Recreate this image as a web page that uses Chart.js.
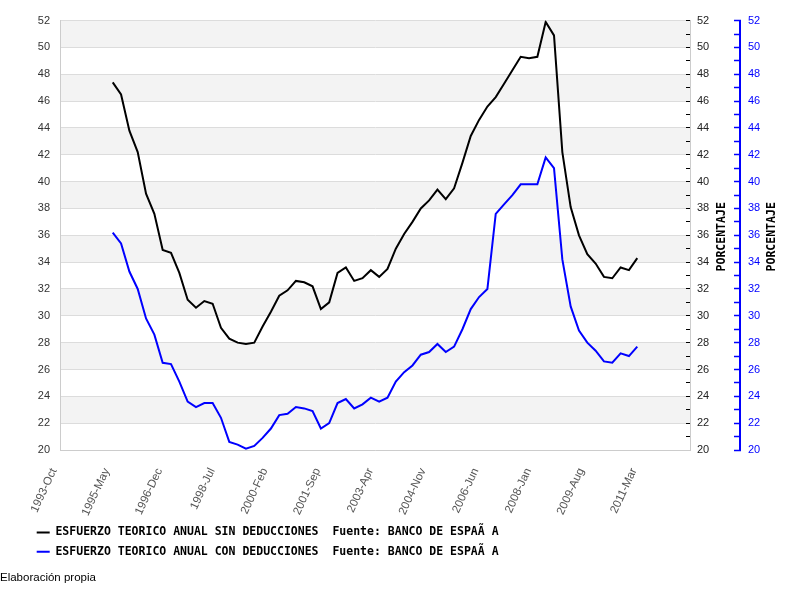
<!DOCTYPE html>
<html><head><meta charset="utf-8">
<script src="https://cdn.jsdelivr.net/npm/chart.js@4.4.1/dist/chart.umd.min.js"></script>
<style>
html,body{margin:0;padding:0;background:#fff;}
#wrap{position:relative;width:800px;height:600px;}
#footer{position:absolute;left:0;top:570px;font:11.5px "Liberation Sans",Arial,sans-serif;line-height:14px;color:#000;white-space:nowrap;}
</style></head><body>
<div id="wrap"><canvas id="c" width="800" height="600"></canvas><div id="footer">Elaboración propia</div></div>
<script>
// ---- data ----
const quarters = [
  '1995-Q2','1995-Q3','1995-Q4',
  '1996-Q1','1996-Q2','1996-Q3','1996-Q4',
  '1997-Q1','1997-Q2','1997-Q3','1997-Q4',
  '1998-Q1','1998-Q2','1998-Q3','1998-Q4',
  '1999-Q1','1999-Q2','1999-Q3','1999-Q4',
  '2000-Q1','2000-Q2','2000-Q3','2000-Q4',
  '2001-Q1','2001-Q2','2001-Q3','2001-Q4',
  '2002-Q1','2002-Q2','2002-Q3','2002-Q4',
  '2003-Q1','2003-Q2','2003-Q3','2003-Q4',
  '2004-Q1','2004-Q2','2004-Q3','2004-Q4',
  '2005-Q1','2005-Q2','2005-Q3','2005-Q4',
  '2006-Q1','2006-Q2','2006-Q3','2006-Q4',
  '2007-Q1','2007-Q2','2007-Q3','2007-Q4',
  '2008-Q1','2008-Q2','2008-Q3','2008-Q4',
  '2009-Q1','2009-Q2','2009-Q3','2009-Q4',
  '2010-Q1','2010-Q2','2010-Q3','2010-Q4',
  '2011-Q1'
];
const sinDeducciones = [
  47.4, 46.5, 43.8,
  42.2, 39.1, 37.6, 34.9,
  34.7, 33.2, 31.2, 30.6,
  31.1, 30.9, 29.1, 28.3,
  28.0, 27.9, 28.0, 29.2,
  30.3, 31.5, 31.9, 32.6,
  32.5, 32.2, 30.5, 31.0,
  33.2, 33.6, 32.6, 32.8,
  33.4, 32.9, 33.5, 35.0,
  36.1, 37.0, 38.0, 38.6,
  39.4, 38.7, 39.5, 41.4,
  43.4, 44.6, 45.6, 46.3,
  47.3, 48.3, 49.3, 49.2,
  49.3, 51.9, 50.9, 42.2,
  38.1, 36.0, 34.6, 33.9,
  32.9, 32.8, 33.6, 33.4,
  34.3
];
const conDeducciones = [
  36.2, 35.4, 33.3,
  32.0, 29.8, 28.6, 26.5,
  26.4, 25.1, 23.6, 23.2,
  23.5, 23.5, 22.4, 20.6,
  20.4, 20.1, 20.3, 20.9,
  21.6, 22.6, 22.7, 23.2,
  23.1, 22.9, 21.6, 22.0,
  23.5, 23.8, 23.1, 23.4,
  23.9, 23.6, 23.9, 25.1,
  25.8, 26.3, 27.1, 27.3,
  27.9, 27.3, 27.7, 29.0,
  30.5, 31.4, 32.0, 37.6,
  38.3, 39.0, 39.8, 39.8,
  39.8, 41.8, 41.0, 34.2,
  30.7, 28.9, 28.0, 27.4,
  26.6, 26.5, 27.2, 27.0,
  27.7
];
const xTickLabels = ['1993-Oct','1995-May','1996-Dec','1998-Jul','2000-Feb','2001-Sep',
                     '2003-Apr','2004-Nov','2006-Jun','2008-Jan','2009-Aug','2011-Mar'];
const xAxisEnd = '2012-Sep';
const yMin = 20, yMax = 52;
const seriesNames = [
  'ESFUERZO TEORICO ANUAL SIN DEDUCCIONES  Fuente: BANCO DE ESPAÃ A',
  'ESFUERZO TEORICO ANUAL CON DEDUCCIONES  Fuente: BANCO DE ESPAÃ A'
];
const axisTitle = 'PORCENTAJE';

// ---- helpers ----
const MONTHS = ['Jan','Feb','Mar','Apr','May','Jun','Jul','Aug','Sep','Oct','Nov','Dec'];
const BASE_YEAR = 1993, BASE_MONTH = 10;
function monthIndex(label) {
  const [ys, ms] = label.split('-');
  const y = parseInt(ys, 10);
  let m;
  if (ms[0] === 'Q') m = parseInt(ms.slice(1), 10) * 3 - 1;
  else m = MONTHS.indexOf(ms) + 1;
  return (y - BASE_YEAR) * 12 + (m - BASE_MONTH);
}
const tickMap = {};
xTickLabels.forEach(l => { tickMap[monthIndex(l)] = l; });

const bandsPlugin = {
  id: 'bands',
  beforeDraw(chart) {
    const {ctx, chartArea, scales} = chart;
    const y = scales.y;
    ctx.save();
    ctx.fillStyle = '#f3f3f3';
    for (let v = yMax - 2; v >= yMin; v -= 4) {
      const t = y.getPixelForValue(v + 2), b = y.getPixelForValue(v);
      ctx.fillRect(chartArea.left, t, chartArea.right - chartArea.left, b - t);
    }
    ctx.restore();
  }
};
const axisTitlePlugin = {
  id: 'axisTitles',
  afterDraw(chart) {
    const {ctx} = chart;
    ['y1', 'y2'].forEach(id => {
      const s = chart.scales[id];
      ctx.save();
      ctx.translate(s.left + 32.5, (s.top + s.bottom) / 2 + 1.5);
      ctx.rotate(-Math.PI / 2);
      ctx.font = 'bold 11.5px "DejaVu Sans Mono", monospace';
      ctx.fillStyle = '#000';
      ctx.textAlign = 'center';
      ctx.textBaseline = 'middle';
      ctx.fillText(s.options.title.text, 0, 0);
      ctx.restore();
    });
  }
};

const tickFont = {family: '"Liberation Sans", Arial, sans-serif', size: 11};

new Chart(document.getElementById('c'), {
  type: 'line',
  data: {
    datasets: [
      {
        label: seriesNames[0],
        data: quarters.map((q, i) => ({x: monthIndex(q), y: sinDeducciones[i]})),
        borderColor: '#000000', backgroundColor: '#000000',
        borderWidth: 2, pointRadius: 0, tension: 0, yAxisID: 'y'
      },
      {
        label: seriesNames[1],
        data: quarters.map((q, i) => ({x: monthIndex(q), y: conDeducciones[i]})),
        borderColor: '#0000ff', backgroundColor: '#0000ff',
        borderWidth: 2, pointRadius: 0, tension: 0, yAxisID: 'y2'
      }
    ]
  },
  options: {
    responsive: false,
    animation: false,
    layout: {padding: {left: 29, right: 15, top: 20, bottom: 32.6}},
    scales: {
      x: {
        type: 'linear', min: 0, max: monthIndex(xAxisEnd), bounds: 'data',
        afterBuildTicks: s => { s.ticks = xTickLabels.map(l => ({value: monthIndex(l)})); },
        afterFit: s => { s.height = 69; },
        grid: {display: false},
        border: {display: true, color: '#cccccc'},
        ticks: {
          autoSkip: false, minRotation: 65, maxRotation: 65, padding: 8, labelOffset: -6,
          color: '#555555', font: {family: '"Liberation Sans", Arial, sans-serif', size: 11.5},
          callback: v => tickMap[v] || ''
        }
      },
      y: {
        position: 'left', min: yMin, max: yMax,
        afterFit: s => { s.width = 31; },
        grid: {color: '#dcdcdc', drawTicks: false},
        border: {display: true, color: '#cccccc'},
        ticks: {stepSize: 2, padding: 10, color: '#333333', font: tickFont, autoSkip: false}
      },
      y1: {
        position: 'right', min: yMin, max: yMax,
        afterFit: s => { s.width = 50; },
        grid: {display: true, drawOnChartArea: false, drawTicks: true, tickLength: -4, tickColor: '#000000', tickWidth: 1},
        border: {display: true, color: '#cccccc', width: 1},
        title: {display: false, text: axisTitle},
        ticks: {stepSize: 1, padding: 11, color: '#222222', font: tickFont, autoSkip: false,
                callback: v => (v % 2 === 0 ? String(v) : '')}
      },
      y2: {
        position: 'right', min: yMin, max: yMax,
        afterFit: s => { s.width = 45; },
        grid: {display: true, drawOnChartArea: false, drawTicks: true, tickLength: -6, tickColor: '#0000ff', tickWidth: 1.5},
        border: {display: true, color: '#0000ff', width: 2},
        title: {display: false, text: axisTitle},
        ticks: {stepSize: 1, padding: 14, color: '#0000ff', font: tickFont, autoSkip: false,
                callback: v => (v % 2 === 0 ? String(v) : '')}
      }
    },
    plugins: {
      tooltip: {enabled: false},
      title: {display: false},
      legend: {
        display: true, position: 'bottom', align: 'start',
        labels: {
          boxWidth: 13, boxHeight: 2, padding: 7.7, color: '#000000',
          font: {family: '"DejaVu Sans Mono", monospace', size: 11.5, weight: 'bold'},
          generateLabels: chart => Chart.defaults.plugins.legend.labels.generateLabels(chart)
            .map(l => Object.assign(l, {lineWidth: 0}))
        }
      }
    }
  },
  plugins: [bandsPlugin, axisTitlePlugin]
});
</script>
</body></html>
